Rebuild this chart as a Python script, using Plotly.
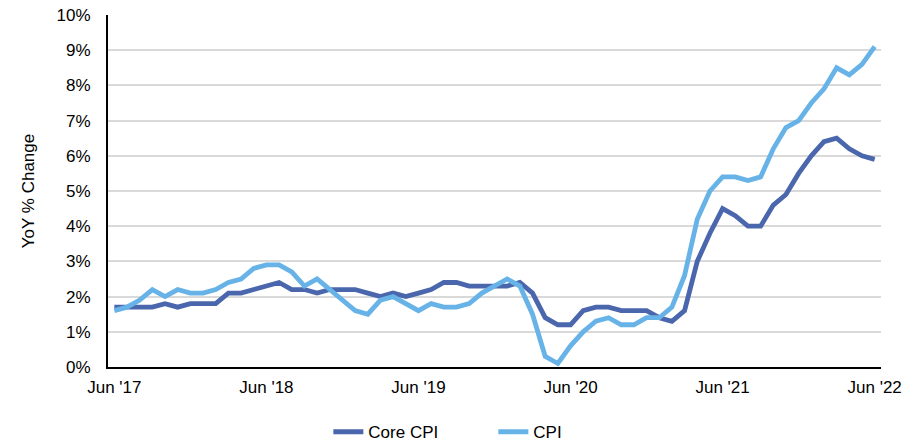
import plotly.graph_objects as go

months = ["Jun '17","Jul '17","Aug '17","Sep '17","Oct '17","Nov '17","Dec '17",
          "Jan '18","Feb '18","Mar '18","Apr '18","May '18","Jun '18","Jul '18","Aug '18","Sep '18","Oct '18","Nov '18","Dec '18",
          "Jan '19","Feb '19","Mar '19","Apr '19","May '19","Jun '19","Jul '19","Aug '19","Sep '19","Oct '19","Nov '19","Dec '19",
          "Jan '20","Feb '20","Mar '20","Apr '20","May '20","Jun '20","Jul '20","Aug '20","Sep '20","Oct '20","Nov '20","Dec '20",
          "Jan '21","Feb '21","Mar '21","Apr '21","May '21","Jun '21","Jul '21","Aug '21","Sep '21","Oct '21","Nov '21","Dec '21",
          "Jan '22","Feb '22","Mar '22","Apr '22","May '22","Jun '22"]

core_cpi = [1.7,1.7,1.7,1.7,1.8,1.7,1.8,
            1.8,1.8,2.1,2.1,2.2,2.3,2.4,2.2,2.2,2.1,2.2,2.2,
            2.2,2.1,2.0,2.1,2.0,2.1,2.2,2.4,2.4,2.3,2.3,2.3,
            2.3,2.4,2.1,1.4,1.2,1.2,1.6,1.7,1.7,1.6,1.6,1.6,
            1.4,1.3,1.6,3.0,3.8,4.5,4.3,4.0,4.0,4.6,4.9,5.5,
            6.0,6.4,6.5,6.2,6.0,5.9]

cpi = [1.6,1.7,1.9,2.2,2.0,2.2,2.1,
       2.1,2.2,2.4,2.5,2.8,2.9,2.9,2.7,2.3,2.5,2.2,1.9,
       1.6,1.5,1.9,2.0,1.8,1.6,1.8,1.7,1.7,1.8,2.1,2.3,
       2.5,2.3,1.5,0.3,0.1,0.6,1.0,1.3,1.4,1.2,1.2,1.4,
       1.4,1.7,2.6,4.2,5.0,5.4,5.4,5.3,5.4,6.2,6.8,7.0,
       7.5,7.9,8.5,8.3,8.6,9.1]

tick_labels = ["Jun '17","Jun '18","Jun '19","Jun '20","Jun '21","Jun '22"]
tick_pos = [months.index(t) for t in tick_labels]
x = list(range(len(months)))

fig = go.Figure()
fig.add_trace(go.Scatter(x=x, y=[v/100 for v in core_cpi], name="Core CPI", mode="lines",
                         line=dict(color="#4a66ac", width=4.8)))
fig.add_trace(go.Scatter(x=x, y=[v/100 for v in cpi], name="CPI", mode="lines",
                         line=dict(color="#67b3e8", width=4.8)))

fig.update_layout(
    width=917, height=441,
    margin=dict(l=108, r=36, t=15, b=74, autoexpand=False),
    paper_bgcolor="white", plot_bgcolor="white",
    font=dict(family="Liberation Sans, Arial, sans-serif", size=17, color="#000000"),
    showlegend=True,
    legend=dict(orientation="h", x=0.538, xanchor="center", xref="container",
                y=0.02, yanchor="middle", yref="container",
                font=dict(size=17), itemwidth=30,
                entrywidth=120, entrywidthmode="pixels"),
    xaxis=dict(range=[-0.5, 60.5], tickvals=tick_pos, ticktext=tick_labels,
               showgrid=False, showline=True, linecolor="black", linewidth=2,
               ticks="", zeroline=False, tickfont=dict(size=17), automargin=False,
               ticklabelstandoff=4),
    yaxis=dict(range=[0, 0.10], dtick=0.01, tickformat=".0%",
               showgrid=True, gridcolor="#d9d9d9", gridwidth=1.5,
               showline=True, linecolor="black", linewidth=2, ticks="",
               zeroline=False, tickfont=dict(size=17), automargin=False,
               ticklabelstandoff=12,
               title=dict(text="YoY % Change", font=dict(size=17), standoff=18)),
)

fig.write_html("out.html", config={"displayModeBar": False},
               post_script="document.body.style.margin='0';document.body.style.overflow='hidden';")
